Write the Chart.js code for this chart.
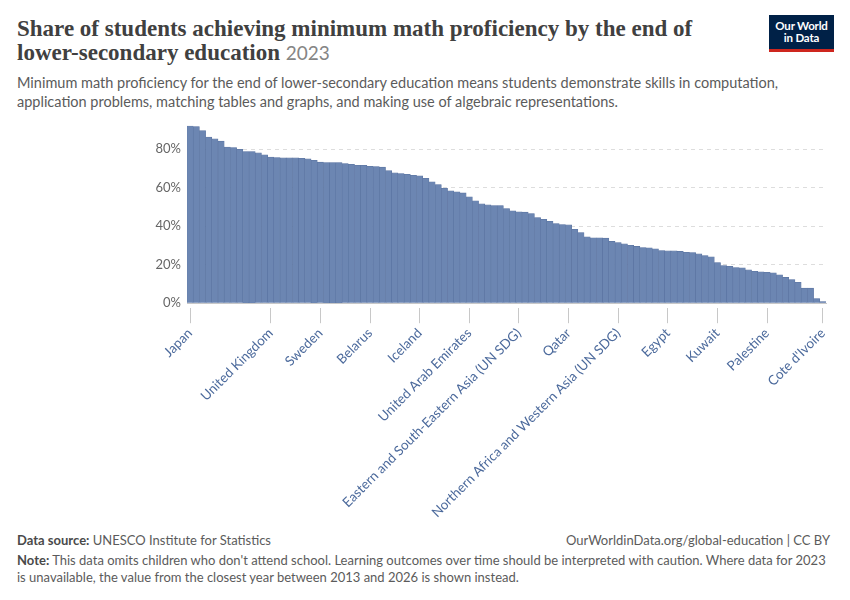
<!DOCTYPE html>
<html>
<head>
<meta charset="utf-8">
<script src="https://cdn.jsdelivr.net/npm/chart.js@4.4.1/dist/chart.umd.min.js"></script>
<style>
  html, body { margin: 0; padding: 0; background: #fff; }
  body { width: 850px; height: 600px; position: relative; overflow: hidden; font-family: Lato, sans-serif; }
  .title { position: absolute; left: 17px; top: 17px; width: 730px; font-family: "Liberation Serif", serif; font-weight: bold; font-size: 23px; line-height: 24px; color: #404040; }
  .title .year { font-family: Lato, sans-serif; font-weight: normal; font-size: 19px; color: #858585; }
  .subtitle { position: absolute; left: 17px; top: 73px; width: 820px; font-size: 14.5px; line-height: 19px; color: #5b5b5b; }
  .logo { position: absolute; left: 769px; top: 15px; width: 65px; background: #002147; border-bottom: 3px solid #ce261e; color: #fff; font-weight: bold; font-size: 11.5px; line-height: 12px; text-align: center; padding-top: 5px; height: 29px; letter-spacing: -0.2px; }
  .foot { position: absolute; font-size: 13px; line-height: 17px; color: #5b5b5b; }
  .foot b { font-weight: bold; color: #4a4a4a; }
  #wrap { position: absolute; left: 0; top: 111.5px; }
</style>
</head>
<body>
<div class="title">Share of students achieving minimum math proficiency by the end of lower-secondary education <span class="year">2023</span></div>
<div class="logo">Our World<br>in Data</div>
<div class="subtitle">Minimum math proficiency for the end of lower-secondary education means students demonstrate skills in computation, application problems, matching tables and graphs, and making use of algebraic representations.</div>
<div id="wrap"><canvas id="chart" width="850" height="409"></canvas></div>
<div class="foot" style="left:17px; top:532px;"><b>Data source:</b> UNESCO Institute for Statistics</div>
<div class="foot" style="right:20px; top:532px;">OurWorldinData.org/global-education | CC BY</div>
<div class="foot" style="left:17px; top:552px; width:820px;"><b>Note:</b> This data omits children who don't attend school. Learning outcomes over time should be interpreted with caution. Where data for 2023 is unavailable, the value from the closest year between 2013 and 2026 is shown instead.</div>
<script>
// shown axis labels and the bar position they sit under
const labelNames = ["Japan", "United Kingdom", "Sweden", "Belarus", "Iceland", "United Arab Emirates",
    "Eastern and South-Eastern Asia (UN SDG)", "Qatar", "Northern Africa and Western Asia (UN SDG)",
    "Egypt", "Kuwait", "Palestine", "Cote d'Ivoire"];
const labelIndex = [0, 13, 21, 29, 37, 45, 53, 61, 69, 77, 85, 93, 102];

// share of students (%) for each bar, sorted high to low
const shares = [
    92.2, 91.8, 89.7, 86.4, 85.4, 84.2, 81.2, 80.9, 80.0, 78.8,
    78.8, 78.1, 77.1, 76.0, 75.7, 75.5, 75.5, 75.5, 75.3, 75.0,
    74.3, 73.3, 73.1, 73.1, 73.1, 72.6, 72.2, 71.7, 71.7, 71.2,
    71.0, 70.7, 68.9, 67.7, 67.4, 67.0, 66.5, 66.2, 64.9, 63.1,
    61.7, 59.7, 58.4, 57.9, 57.3, 55.3, 53.2, 51.6, 51.1, 50.8,
    50.8, 49.2, 48.0, 47.5, 47.3, 46.6, 44.5, 43.6, 42.6, 41.4,
    40.9, 40.7, 38.4, 36.7, 34.5, 34.0, 34.0, 33.8, 32.1, 31.5,
    30.8, 30.1, 29.5, 28.9, 28.8, 28.3, 27.4, 27.2, 27.2, 26.9,
    26.5, 26.3, 25.6, 24.8, 24.1, 21.1, 19.6, 19.2, 18.5, 18.4,
    17.3, 16.6, 16.3, 16.1, 15.8, 14.8, 13.4, 12.3, 10.9, 7.8,
    7.8, 2.4, 0.9
];

const yTicks = [0, 20, 40, 60, 80];

const categories = shares.map(() => "");
labelIndex.forEach((idx, i) => { categories[idx] = labelNames[i]; });

new Chart(document.getElementById("chart"), {
    type: "bar",
    data: {
        labels: categories,
        datasets: [{
            data: shares,
            backgroundColor: "#6c86b2",
            borderColor: "#5b74a1",
            borderWidth: 0.6,
            barPercentage: 1,
            categoryPercentage: 1,
        }],
    },
    options: {
        responsive: false,
        animation: false,
        layout: { padding: { left: 0, right: 24, top: 0, bottom: 0 } },
        plugins: { legend: { display: false }, tooltip: { enabled: false } },
        scales: {
            x: {
                grid: {
                    offset: false,
                    drawOnChartArea: false,
                    tickLength: 20,
                    tickColor: (ctx) => (categories[ctx.index] ? "#c8c8c8" : "rgba(0,0,0,0)"),
                    tickBorderDash: [0, 4, 16, 100],
                },
                border: { color: "#c8c8c8" },
                ticks: {
                    autoSkip: false,
                    minRotation: 45,
                    maxRotation: 45,
                    padding: 2,
                    color: "#4c6a9c",
                    font: { family: "Lato", size: 13.4 },
                },
                afterFit: (scale) => { scale.height = 217.8; },
            },
            y: {
                min: 0,
                max: Math.max(...shares),
                afterBuildTicks: (scale) => { scale.ticks = yTicks.map((v) => ({ value: v })); },
                afterFit: (scale) => { scale.width = 187; },
                grid: {
                    drawTicks: false,
                    color: (ctx) => (ctx.tick && ctx.tick.value === 0 ? "rgba(0,0,0,0)" : "#dddddd"),
                },
                border: { display: false, dash: [4, 4] },
                ticks: {
                    padding: 6,
                    color: "#666666",
                    font: { family: "Lato", size: 13 },
                    callback: (v) => v + "%",
                },
            },
        },
    },
});
</script>
</body>
</html>
